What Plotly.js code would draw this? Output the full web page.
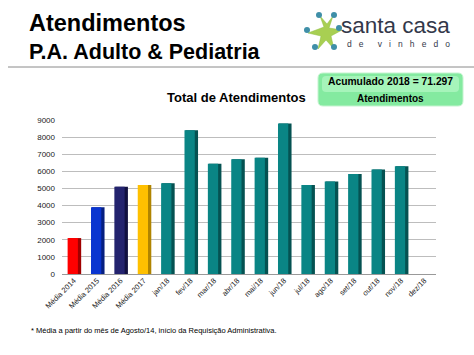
<!DOCTYPE html>
<html><head><meta charset="utf-8">
<script src="https://cdn.plot.ly/plotly-3.0.1.min.js"></script>
<style>html,body{margin:0;padding:0;background:#fff}#c{width:474px;height:355px}</style>
</head><body><div id="c"></div>
<script>
const categories = ["Média 2014","Média 2015","Média 2016","Média 2017","jan/18","fev/18","mar/18","abr/18","mai/18","jun/18","jul/18","ago/18","set/18","out/18","nov/18","dez/18"];
const values = [2100, 3900, 5100, 5200, 5300, 8400, 6450, 6700, 6800, 8800, 5200, 5400, 5850, 6100, 6300, null];
const frontColors = ["#ff0000","#0a35d0","#23236e","#ffc000","#0a8585","#0a8585","#0a8585","#0a8585","#0a8585","#0a8585","#0a8585","#0a8585","#0a8585","#0a8585","#0a8585","#0a8585"];
const sideColors = ["#a00000","#061f80","#101040","#b08400","#055252","#055252","#055252","#055252","#055252","#055252","#055252","#055252","#055252","#055252","#055252","#055252"];
const yTicks = [0,1000,2000,3000,4000,5000,6000,7000,8000,9000];

const L=62,R=436,T=120,B=274,W=474,H=355;
const px = x => (x-L)/(R-L);
const py = y => (B-y)/(B-T);

const side = {type:'bar', x:categories, y:values, width:0.54, offset:-0.22,
  marker:{color:sideColors, line:{width:0}}, hoverinfo:'skip', showlegend:false};
const front = {type:'bar', x:categories, y:values, width:0.44, offset:-0.26,
  marker:{color:frontColors, line:{width:0}}, showlegend:false};

const ann = (x,y,text,size,opts={}) => Object.assign({xref:'paper',yref:'paper',x:px(x),y:py(y),text:text,showarrow:false,
  xanchor:'left',yanchor:'middle',font:{family:'Liberation Sans, Arial, sans-serif',size:size,color:'#000'}},opts);

function roundRect(x0,y0,x1,y1,r){
  return `M ${px(x0+r)} ${py(y0)} L ${px(x1-r)} ${py(y0)} Q ${px(x1)} ${py(y0)} ${px(x1)} ${py(y0+r)} `+
    `L ${px(x1)} ${py(y1-r)} Q ${px(x1)} ${py(y1)} ${px(x1-r)} ${py(y1)} L ${px(x0+r)} ${py(y1)} `+
    `Q ${px(x0)} ${py(y1)} ${px(x0)} ${py(y1-r)} L ${px(x0)} ${py(y0+r)} Q ${px(x0)} ${py(y0)} ${px(x0+r)} ${py(y0)} Z`;
}
const sp = '&#160;';
const vinhedo = ['d','e','','v','i','n','h','e','d','o'].join(sp+sp+sp);

const layout = {
  width:W,height:H,
  margin:{l:L,r:W-R,t:T,b:H-B,pad:0},
  paper_bgcolor:'#fff',plot_bgcolor:'#fff',
  barmode:'overlay',
  xaxis:{type:'category',tickangle:-45,tickfont:{family:'Liberation Sans, Arial, sans-serif',size:7.5,color:'#222'},
    showgrid:false,zeroline:false,showline:false,ticks:'',fixedrange:true},
  yaxis:{range:[0,9000],tickvals:yTicks,ticktext:yTicks.map(String),
    tickfont:{family:'Liberation Sans, Arial, sans-serif',size:8,color:'#222'},
    showgrid:true,gridcolor:'#bdbdbd',gridwidth:1,zeroline:true,zerolinecolor:'#999',showline:false,ticks:'',ticklabelstandoff:6,fixedrange:true},
  shapes:[
    {type:'line',xref:'paper',yref:'paper',x0:px(8),x1:px(474),y0:py(67),y1:py(67),line:{color:'#8a8a8a',width:1}},
    {type:'path',xref:'paper',yref:'paper',path:roundRect(318,73,463,106,5),line:{color:'#c4f4cf',width:1},fillcolor:'#84eaa0',layer:'below'},
    {type:'path',xref:'paper',yref:'paper',path:roundRect(322,76,459,92,4),line:{width:0},fillcolor:'#a6f4ba',layer:'below'},
    {type:'path',xref:'paper',yref:'paper',
      path:`M ${px(320)} ${py(16)} L ${px(324)} ${py(27)} L ${px(308)} ${py(33)} L ${px(321)} ${py(36)} L ${px(318)} ${py(49)} L ${px(326)} ${py(40)} L ${px(334)} ${py(49)} L ${px(331)} ${py(36)} L ${px(342)} ${py(30)} L ${px(329)} ${py(28)} L ${px(333)} ${py(16)} L ${px(327)} ${py(24)} Z`,
      fillcolor:'#a8cf52',line:{color:'#8cbf40',width:0.5}},
    {type:'circle',xref:'paper',yref:'paper',x0:px(316),x1:px(322),y0:py(12),y1:py(18),fillcolor:'#3f8fa8',line:{width:0}},
    {type:'circle',xref:'paper',yref:'paper',x0:px(331),x1:px(337),y0:py(12),y1:py(18),fillcolor:'#3f8fa8',line:{width:0}},
    {type:'circle',xref:'paper',yref:'paper',x0:px(304),x1:px(310),y0:py(27),y1:py(33),fillcolor:'#3f8fa8',line:{width:0}},
    {type:'circle',xref:'paper',yref:'paper',x0:px(336),x1:px(342),y0:py(25),y1:py(31),fillcolor:'#3f8fa8',line:{width:0}},
    {type:'circle',xref:'paper',yref:'paper',x0:px(312),x1:px(318),y0:py(44),y1:py(50),fillcolor:'#3f8fa8',line:{width:0}},
    {type:'circle',xref:'paper',yref:'paper',x0:px(331),x1:px(337),y0:py(44),y1:py(50),fillcolor:'#3f8fa8',line:{width:0}}
  ],
  annotations:[
    ann(27,23,'<b>Atendimentos</b>',23.5),
    ann(27,52,'<b>P.A. Adulto &amp; Pediatria</b>',21.5),
    ann(339,26,'santa casa',22.5,{font:{family:'Liberation Sans, Arial, sans-serif',size:22.5,color:'#34384a'}}),
    ann(345,44,vinhedo,8.5,{font:{family:'Liberation Sans, Arial, sans-serif',size:8.5,color:'#34384a'}}),
    ann(390.5,81,'<b>Acumulado 2018 = 71.297</b>',10.3,{xanchor:'center'}),
    ann(390.5,98,'<b>Atendimentos</b>',10,{xanchor:'center'}),
    ann(236,97,'<b>Total de Atendimentos</b>',13,{xanchor:'center'}),
    ann(29,330,'* Média a partir do mês de Agosto/14, início da Requisição Administrativa.',7.5)
  ]
};
Plotly.newPlot('c',[side,front],layout,{displayModeBar:false,staticPlot:true});
</script></body></html>
